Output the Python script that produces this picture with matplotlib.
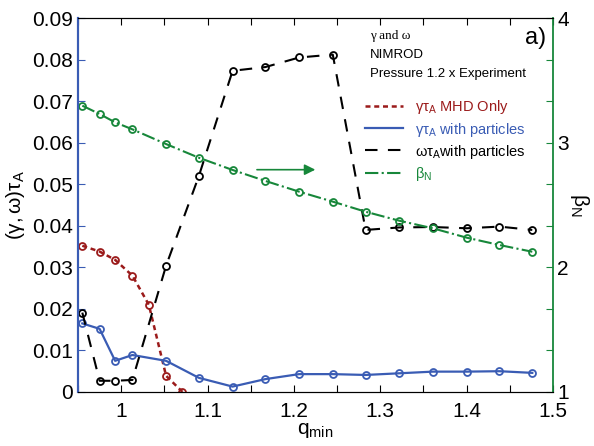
import matplotlib
matplotlib.use("Agg")
import matplotlib.pyplot as plt
from matplotlib.lines import Line2D

plt.rcParams["font.family"] = ["Liberation Sans", "DejaVu Sans"]
plt.rcParams["mathtext.fontset"] = "custom"
plt.rcParams["mathtext.rm"] = "Liberation Sans"
plt.rcParams["mathtext.it"] = "Liberation Sans"

# q_min values
q_mhd = [0.955, 0.975, 0.993, 1.013, 1.032, 1.052, 1.071]
q_part = [0.955, 0.975, 0.993, 1.013, 1.052, 1.090, 1.129, 1.167,
          1.206, 1.245, 1.283, 1.322, 1.361, 1.400, 1.438, 1.476]

# growth rate, MHD only
gamma_mhd = [0.0352, 0.0338, 0.0318, 0.0280, 0.0210, 0.0039, 0.0]
# growth rate with particles
gamma_part = [0.0165, 0.0152, 0.0075, 0.0089, 0.0075, 0.0034, 0.0013, 0.0031,
              0.0043, 0.0043, 0.0041, 0.0045, 0.0049, 0.0049, 0.0050, 0.0046]
# rotation frequency with particles
omega_part = [0.0191, 0.0027, 0.0027, 0.0029, 0.0304, 0.0520, 0.0773, 0.0782,
              0.0805, 0.0812, 0.0390, 0.0396, 0.0397, 0.0394, 0.0398, 0.0390]
# beta_N (right axis)
beta_n = [3.297, 3.230, 3.163, 3.107, 2.989, 2.879, 2.781, 2.693,
          2.607, 2.527, 2.446, 2.374, 2.313, 2.238, 2.179, 2.125]

red = "#9b1b1b"
blue = "#3a5cb4"
green = "#17873a"

fig = plt.figure(figsize=(5.94, 4.46), dpi=100)
ax = fig.add_axes([0.1313, 0.1211, 0.7997, 0.8385])
ax2 = ax.twinx()

mk = dict(marker="o", ms=5, mfc="none", mew=1.3)
ax.plot(q_mhd, gamma_mhd, color=red, lw=1.8, dashes=(2, 1.5), **mk)
ax.plot(q_part, gamma_part, "-", color=blue, lw=1.6, **mk)
ax.plot(q_part, omega_part, color="black", lw=1.5, dashes=(6, 5), **mk)
ax2.plot(q_part, beta_n, "-.", color=green, lw=1.5, **mk)

ax.set_xlim(0.95, 1.5)
ax.set_ylim(0, 0.09)
ax2.set_ylim(1, 4)

xt = [0.95 + 0.05 * i for i in range(12)]
ax.set_xticks(xt)
ax.set_xticklabels(["%g" % round(v, 2) if i % 2 == 1 else "" for i, v in enumerate(xt)])
yt = [0.01 * i for i in range(10)]
ax.set_yticks(yt)
ax.set_yticklabels(["0"] + ["%.2f" % v for v in yt[1:]])
rt = [1 + i / 3 for i in range(10)]
ax2.set_yticks(rt)
ax2.set_yticklabels(["%d" % round(v) if i % 3 == 0 else "" for i, v in enumerate(rt)])

ax.tick_params(axis="x", direction="in", top=True, length=5, labelsize=15, pad=7)
ax.tick_params(axis="y", direction="in", length=5, labelsize=15, color=blue)
ax2.tick_params(axis="y", direction="in", length=5, labelsize=15, color=green, pad=3)

ax.spines["left"].set_color(blue)
ax.spines["left"].set_linewidth(1.5)
ax2.spines["left"].set_color(blue)
ax2.spines["left"].set_linewidth(1.5)
ax2.spines["right"].set_color(green)
ax2.spines["right"].set_linewidth(1.3)
ax.spines["right"].set_visible(False)

ax.set_xlabel(r"q$_{\mathrm{min}}$", fontsize=15, labelpad=0)
ax.set_ylabel(r"$(\gamma,\omega)\tau_{\mathrm{A}}$", fontsize=15, labelpad=4)
ax2.set_ylabel(r"$\beta_{\mathrm{N}}$", fontsize=15, rotation=-90, labelpad=16)

# arrow pointing to the right axis
ax.annotate("", xy=(1.228, 0.0535), xytext=(1.154, 0.0535),
            arrowprops=dict(arrowstyle="-|>", color=green, lw=1.2, mutation_scale=16))

ax.text(0.615, 0.945, "\u03b3 and \u03c9", transform=ax.transAxes, fontsize=9.5,
        family="Liberation Serif")
ax.text(0.615, 0.893, "NIMROD", transform=ax.transAxes, fontsize=9.5)
ax.text(0.615, 0.843, "Pressure 1.2 x Experiment", transform=ax.transAxes, fontsize=9.5)
ax.text(0.985, 0.93, "a)", transform=ax.transAxes, fontsize=17, ha="right")

handles = [
    Line2D([], [], color=red, lw=1.8, dashes=(2, 1.5)),
    Line2D([], [], color=blue, ls="-", lw=1.6),
    Line2D([], [], color="black", lw=1.5, dashes=(6, 5)),
    Line2D([], [], color=green, ls="-.", lw=1.5),
]
labels = [
    r"$\gamma\tau_{\mathrm{A}}$ MHD Only",
    r"$\gamma\tau_{\mathrm{A}}$ with particles",
    r"$\omega\tau_{\mathrm{A}}$with particles",
    r"$\beta_{\mathrm{N}}$",
]
ax.legend(handles, labels, loc="upper left", bbox_to_anchor=(0.605, 0.785),
          frameon=False, fontsize=10.5, handlelength=2.6, handletextpad=0.8,
          labelspacing=0.28, borderpad=0, borderaxespad=0,
          labelcolor=[red, blue, "black", green])

fig.savefig("out.png", dpi=100)
